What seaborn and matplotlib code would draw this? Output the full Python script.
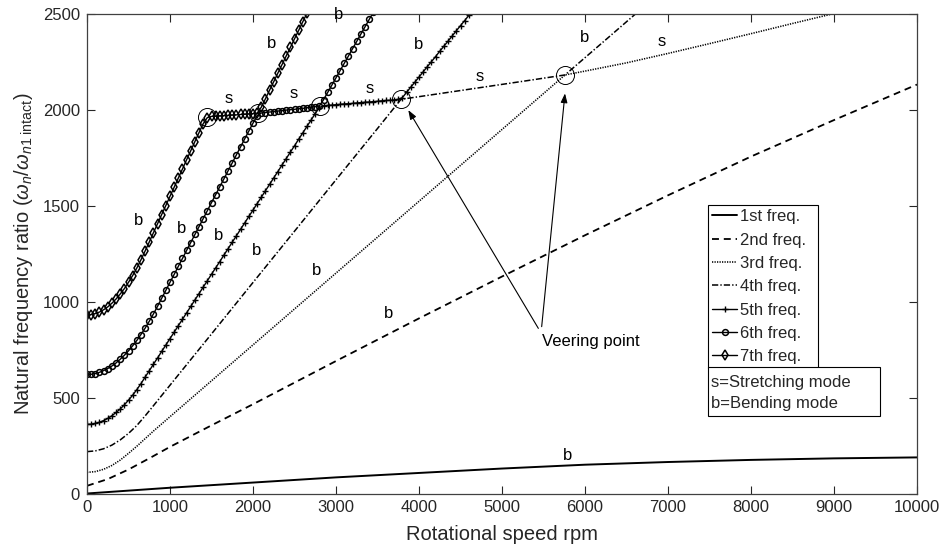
import numpy as np
import pandas as pd
import matplotlib
matplotlib.use("Agg")
import matplotlib.pyplot as plt
from matplotlib.patches import Rectangle
import seaborn as sns

# ---------------------------------------------------------------- data
# Rotational speed sampling (rpm) of the marker curves
rpm_5 = list(range(0, 4651, 50))
rpm_6 = list(range(0, 3551, 50))
rpm_7 = list(range(0, 2701, 50))

freq_1_rpm = [0, 1000, 2000, 3000, 4000, 5000, 6000, 7000, 8000, 9000, 10000]
freq_1 = [0, 30, 57, 84, 107, 130, 150, 164, 175, 183, 188]

freq_2_rpm = [0, 250, 500, 750, 1000, 1500, 2000, 3000, 4000, 5000, 6000,
              7000, 8000, 9000, 10000]
freq_2 = [40, 75, 125, 183, 243, 355, 465, 690, 912, 1130, 1345, 1553, 1755,
          1945, 2130]

freq_3_rpm = [0, 100, 200, 300, 400, 500, 600, 800, 1000, 2000, 3000, 4000,
              5000, 5759, 6000, 6500, 7000, 7500, 8000, 8500, 9000, 9200]
freq_3 = [110, 114, 126, 146, 174, 209, 246, 325, 400, 774, 1148, 1522, 1896,
          2180, 2200, 2243, 2292, 2343, 2395, 2448, 2500, 2521]

freq_4_rpm = [0, 100, 200, 300, 400, 500, 600, 700, 800, 1000, 1500, 2000,
              2500, 3000, 3500, 3783, 4300, 4800, 5300, 5759, 6000, 6300, 6700]
freq_4 = [218, 222, 233, 252, 279, 313, 354, 404, 457, 564, 831, 1099, 1366,
          1634, 1901, 2053, 2086, 2118, 2150, 2180, 2270, 2382, 2532]

freq_5 = [360, 361, 365, 371, 380, 391, 405, 422, 440, 462, 486, 512, 541,
          572, 606, 639, 673, 706, 740, 773, 807, 840, 874, 907, 941, 974,
          1008, 1041, 1075, 1108, 1142, 1175, 1208, 1242, 1275, 1309, 1342,
          1376, 1409, 1443, 1476, 1510, 1543, 1577, 1610, 1644, 1677, 1711,
          1744, 1778, 1811, 1845, 1878, 1912, 1945, 1979, 2010, 2020, 2021,
          2023, 2025, 2027, 2029, 2030, 2032, 2034, 2036, 2038, 2039, 2041,
          2043, 2045, 2047, 2048, 2050, 2053, 2062, 2089, 2116, 2142, 2169,
          2196, 2223, 2249, 2276, 2303, 2330, 2356, 2383, 2410, 2437, 2463,
          2490, 2517]

freq_6 = [620, 621, 625, 631, 640, 651, 664, 680, 699, 720, 743, 769, 797,
          828, 861, 897, 935, 975, 1017, 1058, 1100, 1141, 1183, 1224, 1266,
          1307, 1349, 1390, 1432, 1473, 1515, 1556, 1598, 1639, 1681, 1722,
          1764, 1805, 1847, 1888, 1929, 1968, 1982, 1984, 1987, 1989, 1992,
          1994, 1997, 1999, 2001, 2004, 2006, 2009, 2012, 2015, 2019, 2051,
          2089, 2127, 2165, 2203, 2241, 2279, 2317, 2355, 2393, 2431, 2469,
          2507, 2545, 2583]

freq_7 = [930, 932, 937, 945, 957, 972, 991, 1013, 1039, 1067, 1100, 1135,
          1174, 1217, 1263, 1310, 1358, 1405, 1453, 1500, 1548, 1595, 1643,
          1690, 1738, 1785, 1833, 1880, 1926, 1958, 1964, 1965, 1967, 1968,
          1969, 1971, 1972, 1974, 1975, 1977, 1978, 1981, 2012, 2056, 2101,
          2145, 2190, 2234, 2279, 2323, 2368, 2412, 2457, 2501, 2546]

# veering points (rpm, ratio)
veer_rpm = [1442, 2064, 2807, 3783, 5759]
veer_val = [1962, 1980, 2018, 2053, 2180]

# mode labels: text, rpm, ratio
mode_txt = ["b", "b", "b", "b", "s", "s", "s", "s", "s",
            "b", "b", "b", "b", "b", "b", "b"]
mode_rpm = [2225, 3036, 3992, 6000, 6924, 1702, 2486, 3410, 4727,
            618, 1141, 1582, 2045, 2767, 3630, 5789]
mode_val = [2345, 2497, 2336, 2373, 2353, 2058, 2081, 2110, 2171,
            1424, 1381, 1346, 1268, 1164, 938, 200]

legend_labels = ["1st freq.", "2nd freq.", "3rd freq.", "4th freq.",
                 "5th freq.", "6th freq.", "7th freq."]

# ---------------------------------------------------------------- style
sns.set_style("ticks")
plt.rcParams["font.family"] = ["Liberation Sans", "DejaVu Sans"]
plt.rcParams["mathtext.fontset"] = "custom"
plt.rcParams["mathtext.rm"] = "Liberation Sans"
plt.rcParams["mathtext.it"] = "Liberation Sans:italic"
plt.rcParams["lines.scale_dashes"] = False

fig = plt.figure(figsize=(9.43, 5.54), dpi=100)
ax = fig.add_axes([87 / 943, 60.5 / 554, 830 / 943, 480 / 554])

series = [
    (freq_1_rpm, freq_1, dict(linestyle="-", lw=1.4)),
    (freq_2_rpm, freq_2, dict(linestyle=(0, (5, 3.5)), lw=1.3)),
    (freq_3_rpm, freq_3, dict(linestyle=(0, (0.9, 0.9)), lw=1.15)),
    (freq_4_rpm, freq_4, dict(linestyle=(0, (4.5, 1.5, 1, 1.5)), lw=1.1)),
    (rpm_5, freq_5, dict(linestyle="-", lw=1.0, marker="+", markersize=5,
                         markeredgewidth=1.0, markeredgecolor="k")),
    (rpm_6, freq_6, dict(linestyle="-", lw=1.0, marker="o", markersize=4.2,
                         markeredgewidth=1.1, markeredgecolor="k",
                         markerfacecolor="none")),
    (rpm_7, freq_7, dict(linestyle="-", lw=1.0, marker="d", markersize=5,
                         markeredgewidth=1.1, markeredgecolor="k",
                         markerfacecolor="none")),
]

handles = []
for (xs, ys, kw), lab in zip(series, legend_labels):
    df = pd.DataFrame({"rpm": xs, "ratio": ys})
    sns.lineplot(data=df, x="rpm", y="ratio", ax=ax, color="k", sort=False,
                 estimator=None, legend=False, **kw)
    handles.append(ax.lines[-1])

# veering point circles
ax.plot(veer_rpm, veer_val, linestyle="none", marker="o", markersize=13,
        markerfacecolor="none", markeredgecolor="k", markeredgewidth=0.7)

# mode labels
for t, xr, yv in zip(mode_txt, mode_rpm, mode_val):
    ax.text(xr, yv, t, ha="center", va="center", fontsize=12, color="k")

# veering point annotation
arrow_kw = dict(arrowstyle="-|>,head_length=0.55,head_width=0.2", color="k",
                lw=0.8, shrinkA=0, shrinkB=0)
ax.annotate("", xy=(3871, 1997), xytext=(5438, 860), arrowprops=arrow_kw)
ax.annotate("", xy=(5759, 2084), xytext=(5478, 869), arrowprops=arrow_kw)
ax.text(5478, 791, "Veering point", ha="left", va="center", fontsize=12,
        color="k")

# axes
ax.set_xlim(0, 10000)
ax.set_ylim(0, 2500)
ax.set_xticks(range(0, 10001, 1000))
ax.set_yticks(range(0, 2501, 500))
ax.tick_params(direction="in", length=5.5, width=0.8, top=True, right=True,
               labelsize=12, colors="#262626", pad=5)
for sp in ax.spines.values():
    sp.set_color("#404040")
    sp.set_linewidth(0.9)
ax.set_xlabel("Rotational speed rpm", fontsize=14.5, color="#262626",
              labelpad=7)
ax.set_ylabel(r"Natural frequency ratio ($\omega_n/\omega_{n1\ \mathrm{intact}}$)",
              fontsize=14.5, color="#262626", labelpad=6)

# frequency legend, stretched to a fixed box width
leg = ax.legend(handles, legend_labels, loc="upper left",
                bbox_to_anchor=(0.748, 0.2635, 0.1325, 0.3375),
                bbox_transform=ax.transAxes, mode="expand",
                borderaxespad=0, frameon=True, fancybox=False, edgecolor="k",
                framealpha=1, fontsize=12, handlelength=1.5,
                handletextpad=0.2, labelspacing=0.5, borderpad=0.25)
leg.get_frame().set_linewidth(0.8)

# mode key box
ax.add_patch(Rectangle((0.748, 0.1615), 0.2074, 0.102, transform=ax.transAxes,
                       facecolor="white", edgecolor="k", lw=0.8, zorder=6))
ax.text(0.752, 0.2308, "s=Stretching mode", transform=ax.transAxes,
        ha="left", va="center", fontsize=12, zorder=7)
ax.text(0.752, 0.1865, "b=Bending mode", transform=ax.transAxes,
        ha="left", va="center", fontsize=12, zorder=7)

fig.savefig("out.png", dpi=100)
